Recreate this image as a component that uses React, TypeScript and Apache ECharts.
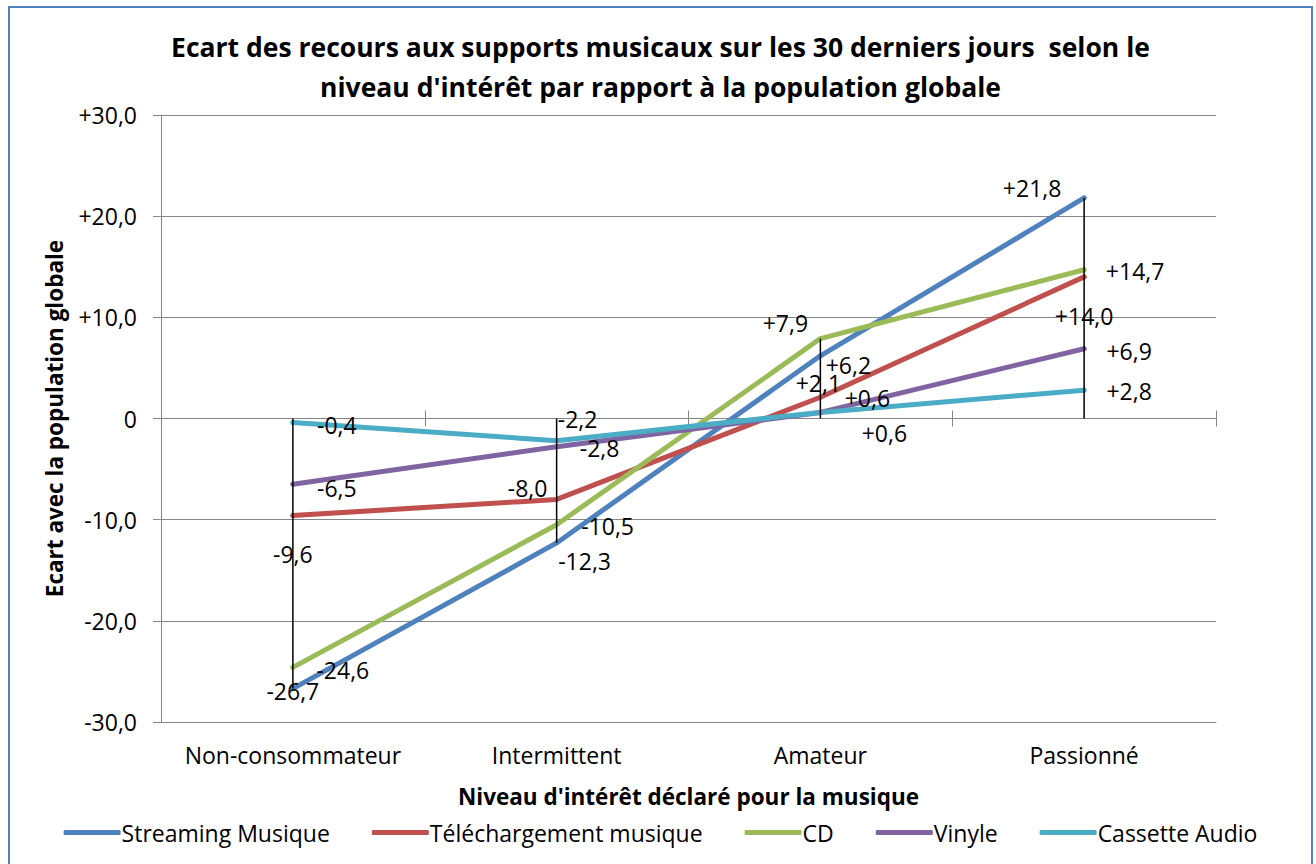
import React, { useEffect, useRef } from 'react';
import * as echarts from 'echarts';

// ---- data ----
const categories = ['Non-consommateur', 'Intermittent', 'Amateur', 'Passionné'];
const seriesNames = ['Streaming Musique', 'Téléchargement musique', 'CD', 'Vinyle', 'Cassette Audio'];
const streaming = [-26.7, -12.3, 6.2, 21.8];
const telechargement = [-9.6, -8.0, 2.1, 14.0];
const cd = [-24.6, -10.5, 7.9, 14.7];
const vinyle = [-6.5, -2.8, 0.6, 6.9];
const cassette = [-0.4, -2.2, 0.6, 2.8];
const yMin = -30;
const yMax = 30;
const yInterval = 10;

const titleText =
  "Ecart des recours aux supports musicaux sur les 30 derniers jours  selon le\nniveau d'intérêt par rapport à la population globale";
const xAxisTitle = "Niveau d'intérêt déclaré pour la musique";
const yAxisTitle = 'Ecart avec la population globale';

// ---- styling / layout ----
const FONT = "'Open Sans', sans-serif";
const colors = ['#4F81BD', '#C0504D', '#9BBB59', '#8064A2', '#4BACC6'];
const GRID_GRAY = '#868686';
// label offsets (px, relative to the point) for each series / category
const labelOffsets: number[][][] = [
  [[0, 2], [28, 18], [28, 9], [-52, -10]],
  [[0, 38], [-29, -11], [-2, -14], [0, 39]],
  [[50, 3], [51, 1], [-35, -16], [51, 1]],
  [[44, 4], [43, 1], [47, -14], [45, 2]],
  [[44, 2], [21, -22], [64, 21], [45, 1]],
];

const fmt = (v: number) =>
  v === 0 ? '0' : (v > 0 ? '+' : '-') + Math.abs(v).toFixed(1).replace('.', ',');

const allValues = [streaming, telechargement, cd, vinyle, cassette];

function buildOption() {
  const dropData = categories.map((_, i) => {
    const col = allValues.map((a) => a[i]);
    const ext = col.reduce((m, v) => (Math.abs(v) > Math.abs(m) ? v : m), 0);
    return [i, ext];
  });

  const lineSeries = allValues.map((vals, si) => ({
    type: 'line',
    name: seriesNames[si],
    xAxisIndex: 0,
    yAxisIndex: 0,
    data: vals.map((v, i) => ({ value: v, label: { offset: labelOffsets[si][i] } })),
    symbol: 'circle',
    symbolSize: 5,
    showSymbol: true,
    lineStyle: { width: 5, color: colors[si], cap: 'round', join: 'round' },
    itemStyle: { color: colors[si] },
    label: {
      show: true,
      position: 'inside',
      formatter: (p: any) => fmt(p.value),
      color: '#000',
      fontSize: 23,
      fontFamily: FONT,
    },
    emphasis: { disabled: true },
    z: 2,
  }));

  return {
    animation: false,
    backgroundColor: '#fff',
    title: {
      text: titleText,
      left: 'center',
      top: 19,
      padding: 0,
      textStyle: {
        fontSize: 26.5,
        fontWeight: 'bold',
        fontFamily: FONT,
        color: '#000',
        lineHeight: 40,
      },
    },
    legend: {
      data: seriesNames,
      left: 'center',
      top: 813,
      padding: 0,
      itemWidth: 57,
      itemHeight: 5,
      itemGap: 42,
      icon: 'roundRect',
      textStyle: { fontSize: 23, fontFamily: FONT, color: '#000', padding: [0, 0, 0, -4] },
    },
    grid: { left: 151, right: 95, top: 107, bottom: 142, containLabel: false },
    xAxis: [
      {
        type: 'category',
        data: categories,
        position: 'bottom',
        boundaryGap: true,
        axisLine: { show: true, onZero: false, lineStyle: { color: GRID_GRAY, width: 1 } },
        axisTick: { show: false },
        axisLabel: { interval: 0, fontSize: 23, fontFamily: FONT, color: '#000', margin: 21 },
        splitLine: { show: false },
        name: xAxisTitle,
        nameLocation: 'middle',
        nameGap: 63,
        nameTextStyle: { fontSize: 22.5, fontWeight: 'bold', fontFamily: FONT, color: '#000' },
      },
      {
        type: 'category',
        data: categories,
        position: 'bottom',
        boundaryGap: true,
        axisLine: { show: true, onZero: true, onZeroAxisIndex: 0, lineStyle: { color: GRID_GRAY, width: 1 } },
        axisTick: { show: true, inside: false, length: 8, interval: 0, lineStyle: { color: GRID_GRAY } },
        axisLabel: { show: false },
        splitLine: { show: false },
      },
      {
        type: 'category',
        data: categories,
        position: 'bottom',
        boundaryGap: true,
        axisLine: { show: false, onZero: true, onZeroAxisIndex: 0 },
        axisTick: { show: true, inside: true, length: 8, interval: 0, lineStyle: { color: GRID_GRAY } },
        axisLabel: { show: false },
        splitLine: { show: false },
      },
    ],
    yAxis: [
      {
        type: 'value',
        position: 'left',
        min: yMin,
        max: yMax,
        interval: yInterval,
        axisLine: { show: true, lineStyle: { color: GRID_GRAY, width: 1 } },
        axisTick: { show: true, inside: false, length: 8, lineStyle: { color: GRID_GRAY } },
        axisLabel: {
          fontSize: 23,
          fontFamily: FONT,
          color: '#000',
          margin: 24,
          formatter: (v: number) => fmt(v),
        },
        splitLine: { show: true, lineStyle: { color: GRID_GRAY, width: 1 } },
        name: yAxisTitle,
        nameLocation: 'middle',
        nameGap: 95,
        nameTextStyle: { fontSize: 22.5, fontWeight: 'bold', fontFamily: FONT, color: '#000' },
      },
      {
        type: 'value',
        position: 'left',
        min: yMin,
        max: yMax,
        interval: yInterval,
        axisLine: { show: false },
        axisTick: { show: true, inside: true, length: 8, lineStyle: { color: GRID_GRAY } },
        axisLabel: { show: false },
        splitLine: { show: false },
      },
    ],
    series: [
      ...lineSeries,
      {
        type: 'custom',
        name: 'drop',
        xAxisIndex: 0,
        yAxisIndex: 0,
        data: dropData,
        encode: { x: 0, y: 1 },
        silent: true,
        z: 3,
        renderItem: (_params: any, api: any) => {
          const i = api.value(0);
          const p0 = api.coord([i, 0]);
          const p1 = api.coord([i, api.value(1)]);
          return {
            type: 'line',
            shape: { x1: p0[0], y1: p0[1], x2: p1[0], y2: p1[1] },
            style: { stroke: '#000', lineWidth: 1.5 },
          };
        },
      },
    ],
  };
}

export default function App() {
  const ref = useRef<HTMLDivElement>(null);
  useEffect(() => {
    if (!ref.current) return;
    const chart = echarts.init(ref.current, null, { renderer: 'svg' });
    chart.setOption(buildOption() as any);
    return () => chart.dispose();
  }, []);
  return (
    <div
      style={{
        position: 'fixed',
        left: 8,
        top: 6,
        width: 1305,
        height: 858,
        boxSizing: 'border-box',
        borderTop: '2px solid #4F81BD',
        borderLeft: '2px solid #4F81BD',
        borderRight: '2px solid #4F81BD',
        background: '#fff',
      }}
    >
      <div ref={ref} style={{ width: 1301, height: 856 }} />
    </div>
  );
}
